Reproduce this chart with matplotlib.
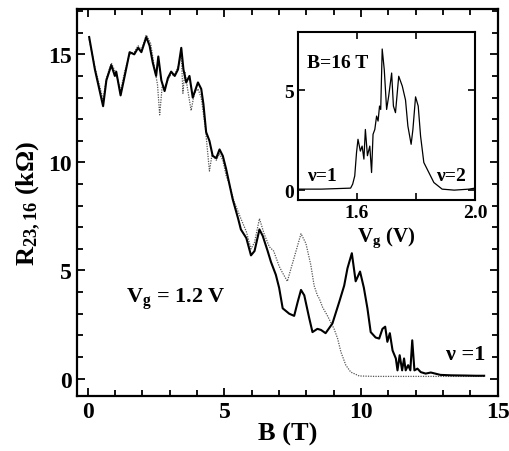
import numpy as np
import matplotlib
matplotlib.use('Agg')
import matplotlib.pyplot as plt
from matplotlib.ticker import MultipleLocator, FixedLocator

plt.rcParams['font.family'] = ['Liberation Serif', 'DejaVu Serif']
plt.rcParams['font.weight'] = 'bold'
plt.rcParams['axes.labelweight'] = 'bold'
plt.rcParams['mathtext.fontset'] = 'custom'
plt.rcParams['mathtext.rm'] = 'Liberation Serif:bold'
plt.rcParams['mathtext.it'] = 'Liberation Serif:bold'
plt.rcParams['mathtext.bf'] = 'Liberation Serif:bold'

## main panel, solid trace: B (T), R (kOhm)
B_solid = [0.05, 0.26, 0.56, 0.68, 0.86, 0.99, 1.04, 1.2, 1.35, 1.53, 1.7, 1.84, 1.96, 2.14, 2.26,
           2.38, 2.5, 2.58, 2.69, 2.81, 2.93, 3.05, 3.18, 3.3, 3.42, 3.5, 3.6, 3.72, 3.84, 4.03,
           4.15, 4.23, 4.33, 4.45, 4.57, 4.7, 4.82, 4.94, 5.06, 5.18, 5.3, 5.5, 5.6, 5.8, 5.97,
           6.1, 6.28, 6.4, 6.58, 6.7, 6.88, 7.0, 7.13, 7.37, 7.55, 7.68, 7.8, 7.92, 8.1, 8.22,
           8.4, 8.53, 8.7, 8.95, 9.2, 9.38, 9.5, 9.66, 9.8, 9.96, 10.1, 10.23, 10.35, 10.53, 10.66,
           10.78, 10.88, 10.96, 11.05, 11.15, 11.27, 11.33, 11.41, 11.5, 11.57, 11.63, 11.72, 11.8,
           11.87, 11.95, 12.06, 12.18, 12.36, 12.55, 12.9, 13.3, 13.8, 14.2, 14.5]
R_solid = [15.8, 14.3, 12.6, 13.8, 14.5, 14.0, 14.2, 13.1, 14.0, 15.1, 15.0, 15.3, 15.1, 15.8, 15.4,
           14.6, 14.0, 14.9, 13.8, 13.3, 13.9, 14.2, 14.0, 14.3, 15.3, 14.3, 13.7, 14.0, 13.0, 13.7,
           13.4, 12.7, 11.4, 11.0, 10.3, 10.2, 10.6, 10.3, 9.7, 9.0, 8.3, 7.4, 6.9, 6.5, 5.7,
           5.9, 6.9, 6.6, 5.9, 5.4, 4.8, 4.2, 3.25, 3.0, 2.9, 3.55, 4.1, 3.85, 2.8, 2.15,
           2.3, 2.25, 2.1, 2.55, 3.55, 4.3, 5.1, 5.8, 4.5, 4.95, 4.2, 3.25, 2.15, 1.9, 1.85,
           2.3, 2.4, 1.7, 2.1, 1.3, 0.93, 0.38, 1.08, 0.38, 0.93, 0.38, 0.62, 0.38,
           1.77, 0.38, 0.46, 0.3, 0.23, 0.28, 0.17, 0.15, 0.14, 0.13, 0.13]

## main panel, dotted trace
B_dot = [0.05, 0.26, 0.56, 0.68, 0.86, 1.04, 1.2, 1.35, 1.53, 1.7, 1.84, 1.96, 2.14, 2.3,
         2.45, 2.55, 2.63, 2.72, 2.85, 3.0, 3.2, 3.35, 3.42, 3.48, 3.55, 3.65, 3.78, 3.9, 4.03,
         4.15, 4.3, 4.45, 4.55, 4.7, 4.82, 4.94, 5.06, 5.2, 5.35, 5.6, 5.8, 5.97, 6.1, 6.28,
         6.45, 6.64, 6.8, 7.0, 7.1, 7.3, 7.55, 7.8, 7.98, 8.16, 8.28, 8.4, 8.47, 8.59, 8.77,
         9.01, 9.14, 9.26, 9.44, 9.62, 9.93, 10.5, 11.5, 12.5, 13.5, 14.5]
R_dot = [15.7, 14.4, 12.9, 13.9, 14.6, 14.1, 13.3, 14.2, 15.0, 15.1, 15.4, 15.2, 15.9, 15.5,
         14.3, 13.6, 12.2, 13.5, 13.6, 14.0, 14.1, 14.6, 15.0, 13.2, 14.2, 13.4, 12.4, 13.2, 13.4,
         13.0, 11.6, 9.6, 10.4, 10.1, 10.4, 10.1, 9.4, 8.9, 8.2, 7.4, 6.8, 6.0, 6.3, 7.4,
         6.7, 6.1, 5.9, 5.2, 4.95, 4.5, 5.6, 6.7, 6.25, 5.25, 4.3, 3.85, 3.7, 3.3, 2.9,
         2.3, 1.85, 1.23, 0.62, 0.3, 0.12, 0.1, 0.1, 0.1, 0.1, 0.1]

## inset: V_g (V), R (kOhm) at B = 16 T
Vg_inset = [1.40, 1.48, 1.579, 1.586, 1.593, 1.599, 1.604, 1.612, 1.618, 1.624, 1.629, 1.636,
            1.644, 1.650, 1.655, 1.661, 1.667, 1.672, 1.677, 1.681, 1.686, 1.693, 1.701, 1.708,
            1.718, 1.724, 1.731, 1.742, 1.754, 1.765, 1.773, 1.784, 1.79, 1.799, 1.808, 1.816,
            1.827, 1.844, 1.861, 1.889, 1.93, 1.98, 2.0]
R_inset = [0.05, 0.05, 0.1, 0.3, 0.71, 1.87, 2.54, 1.95, 2.2, 1.55, 3.03, 1.72,
           2.2, 0.88, 2.79, 3.03, 3.7, 3.45, 4.2, 4.03, 7.05, 6.02, 4.03, 4.7,
           5.85, 4.2, 3.87, 5.69, 5.2, 4.5, 3.2, 2.29, 3.03, 4.66, 4.2, 2.7,
           1.38, 0.88, 0.38, 0.05, 0.0, 0.05, 0.1]

fig = plt.figure(figsize=(5.09, 4.52), dpi=100)
ax = fig.add_axes([0.151, 0.122, 0.827, 0.856])

ax.plot(B_dot, R_dot, color='#555555', lw=0.9, ls=(0, (1, 1)))
ax.plot(B_solid, R_solid, color='black', lw=1.5)

ax.set_xlim(-0.4, 15.0)
ax.set_ylim(-0.8, 17.1)
ax.xaxis.set_major_locator(MultipleLocator(5))
ax.xaxis.set_minor_locator(MultipleLocator(1))
ax.yaxis.set_major_locator(MultipleLocator(5))
ax.yaxis.set_minor_locator(MultipleLocator(1))
ax.tick_params(which='both', direction='in', top=True, right=True, width=1.3, labelsize=17)
ax.tick_params(which='major', length=6)
ax.tick_params(which='minor', length=4)
for s in ax.spines.values():
    s.set_linewidth(1.6)
ax.set_xlabel('B (T)', fontsize=19, labelpad=0)
ax.set_ylabel('R$_{23,16}$ (k\u03a9)', fontsize=19, labelpad=4)

ax.text(1.4, 3.7, 'V$_\\mathrm{g}$ = 1.2 V', fontsize=16, va='center')
ax.text(13.1, 1.15, '\u03bd =1', fontsize=16, va='center')

## inset
ins = fig.add_axes([0.585, 0.555, 0.348, 0.372])
ins.plot(Vg_inset, R_inset, color='black', lw=0.9)
ins.set_xlim(1.4, 2.0)
ins.set_ylim(-0.5, 7.9)
ins.xaxis.set_major_locator(FixedLocator([1.6, 1.8, 2.0]))
ins.set_xticklabels(['1.6', '', '2.0'])
ins.yaxis.set_major_locator(FixedLocator([0, 5]))
ins.tick_params(direction='in', top=True, right=True, length=5, width=1.2, labelsize=14, pad=3)
for s in ins.spines.values():
    s.set_linewidth(1.5)
ins.set_xlabel('V$_\\mathrm{g}$ (V)', fontsize=15, labelpad=2)
ins.text(1.43, 6.4, 'B=16 T', fontsize=14, va='center')
ins.text(1.43, 0.75, '\u03bd=1', fontsize=14, va='center')
ins.text(1.87, 0.75, '\u03bd=2', fontsize=14, va='center')

fig.savefig('out.png', dpi=100)
